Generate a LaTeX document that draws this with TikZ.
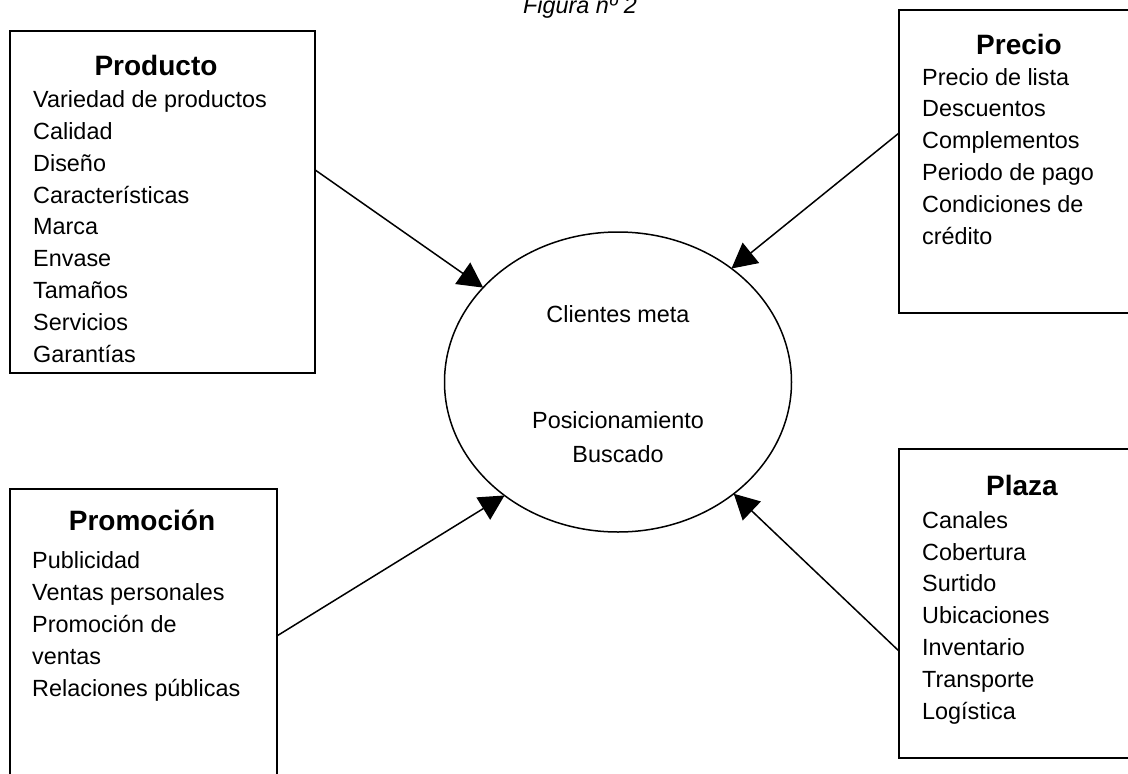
\documentclass[tikz,border=0pt]{standalone}
\usepackage{fontspec}
\setmainfont{Liberation Sans}
\usetikzlibrary{shapes.geometric,arrows.meta,calc}
\begin{document}
\begin{tikzpicture}[x=1pt,y=-1pt,
 panel/.style={draw,line width=2pt,rectangle,inner sep=0pt,outer sep=0pt},
 ttl/.style={font=\fontsize{28}{32}\selectfont\bfseries,inner sep=0pt,anchor=base},
 lst/.style={font=\fontsize{23.4}{31.8}\selectfont,align=left,inner sep=0pt,anchor=base west},
 core/.style={draw,ellipse,line width=1.5pt,inner sep=0pt,outer sep=0pt},
 ctext/.style={font=\fontsize{23.4}{34}\selectfont,align=center,inner sep=0pt,anchor=base},
 feed/.style={line width=1.5pt,-{Triangle[length=25pt,width=26pt]}}]
\path[use as bounding box,clip] (0,0) rectangle (1128,774);
\node[font=\fontsize{23.4}{28}\selectfont\itshape,anchor=base,inner sep=0pt] (fig) at (580,13) {Figura nº 2};
% boxes
\node[panel,minimum width=305pt,minimum height=342pt] (prod) at (162.5,202) {};
\node[panel,minimum width=241pt,minimum height=303pt] (prec) at (1019.5,161.5) {};
\node[panel,minimum width=241pt,minimum height=309pt] (plaz) at (1019.5,603.5) {};
\node[panel,minimum width=267pt,minimum height=301pt] (prom) at (143.5,639.5) {};
% titles
\node[ttl] (prodt) at (156,75) {Producto};
\node[ttl] (prect) at (1019,54) {Precio};
\node[ttl] (plazt) at (1022,495) {Plaza};
\node[ttl] (promt) at (142,530) {Promoción};
% lists (anchored at the baseline of their last line)
\node[lst] (prodl) at (33,362) {Variedad de productos\\Calidad\\Diseño\\Características\\Marca\\Envase\\Tamaños\\Servicios\\Garantías};
\node[lst] (precl) at (922,244) {Precio de lista\\Descuentos\\Complementos\\Periodo de pago\\Condiciones de\\crédito};
\node[lst] (plazl) at (922,719) {Canales\\Cobertura\\Surtido\\Ubicaciones\\Inventario\\Transporte\\Logística};
\node[lst] (proml) at (32,696) {Publicidad\\Ventas personales\\Promoción de\\ventas\\Relaciones públicas};
% center
\node[core,minimum width=347pt,minimum height=300pt] (ell) at (618,382) {};
\node[ctext] (c1) at (618,322) {Clientes meta};
\node[ctext] (c2) at (618,462) {Posicionamiento\\Buscado};
% arrows
\draw[feed] ($(prod.north east)!0.406!(prod.south east)$) -- (ell.145);
\draw[feed] ($(prec.north west)!0.406!(prec.south west)$) -- (ell.45.5);
\draw[feed] ($(plaz.north west)!0.654!(plaz.south west)$) -- (ell.-44.7);
\draw[feed] ($(prom.north east)!0.488!(prom.south east)$) -- (ell.-135);
\end{tikzpicture}
\end{document}
